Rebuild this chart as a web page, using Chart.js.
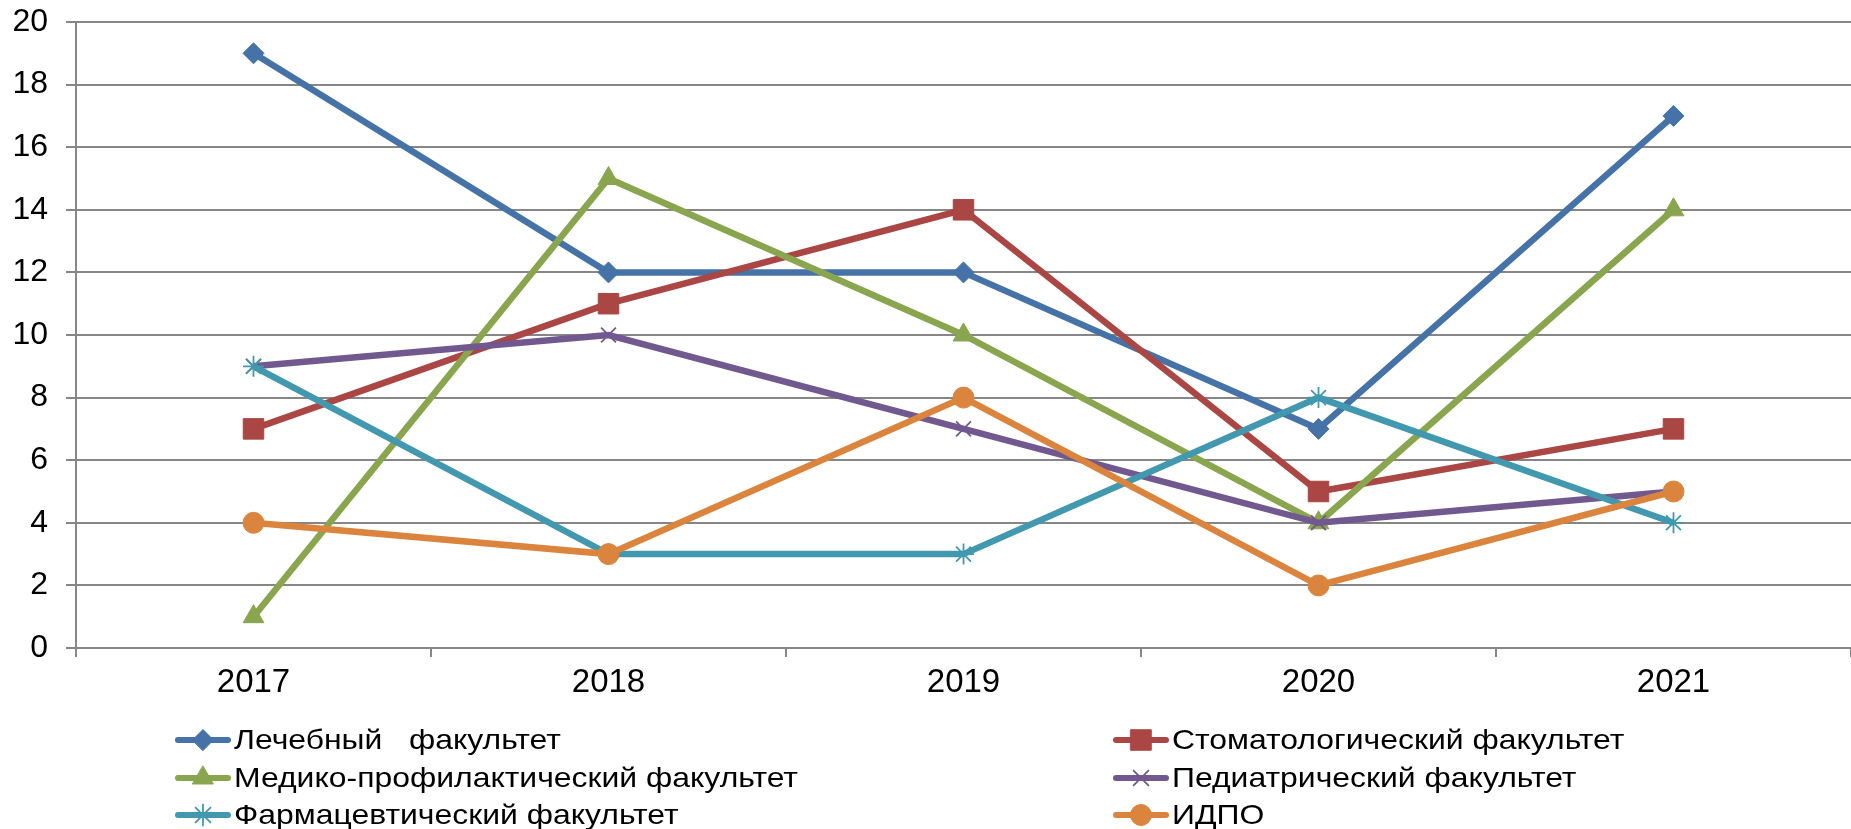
<!DOCTYPE html>
<html>
<head>
<meta charset="utf-8">
<script src="https://cdn.jsdelivr.net/npm/chart.js@4/dist/chart.umd.min.js"></script>
<style>
  html, body { margin: 0; padding: 0; background: #ffffff; overflow: hidden; }
  #wrap { width: 1851px; height: 829px; position: relative; overflow: hidden; }
  canvas { display: block; }
</style>
</head>
<body>
<div id="wrap"><canvas id="c" width="1851" height="829"></canvas></div>
<script>
// Years on the category axis
const years = ['2017', '2018', '2019', '2020', '2021'];

// Faculty names (legend labels)
const faculties = [
  'Лечебный   факультет',
  'Стоматологический факультет',
  'Медико-профилактический факультет',
  'Педиатрический факультет',
  'Фармацевтический факультет',
  'ИДПО'
];

// Values per faculty, one per year
const lechebny = [19, 12, 12, 7, 17];
const stomatolog = [7, 11, 14, 5, 7];
const medprof = [1, 15, 10, 4, 14];
const pediatr = [9, 10, 7, 4, 5];
const pharm = [9, 3, 3, 8, 4];
const idpo = [4, 3, 8, 2, 5];

// Value axis range
const yMin = 0;
const yMax = 20;
const yStep = 2;

const seriesValues = [lechebny, stomatolog, medprof, pediatr, pharm, idpo];
const colors = ['#4572A7', '#AA4643', '#89A54E', '#71588F', '#4198AF', '#DB843D'];
const markers = ['rectRot', 'rect', 'triangle', 'crossRot', 'star', 'circle'];
const markerRadius = [10.5, 14.5, 12, 10.5, 10.5, 10.5];
const markerBorder = [1, 1, 1, 1.8, 1.8, 1];

const FONT = '"Liberation Sans", Arial, sans-serif';
const GRID = '#868686';
Chart.defaults.font.family = FONT;

const datasets = seriesValues.map((vals, i) => ({
  label: faculties[i],
  data: vals,
  borderColor: colors[i],
  backgroundColor: colors[i],
  borderWidth: 6.5,
  pointStyle: markers[i],
  pointRadius: markerRadius[i],
  pointHoverRadius: markerRadius[i],
  pointBackgroundColor: colors[i],
  pointBorderColor: colors[i],
  pointBorderWidth: markerBorder[i],
  tension: 0,
  fill: false,
  clip: false,
  order: seriesValues.length - i
}));

// Two-column legend drawn with a line sample and the series marker
const lineLegend = {
  id: 'lineLegend',
  afterDraw(chart) {
    const ctx = chart.ctx;
    const colX = [175, 1113];
    const rowY = [740, 778, 815];
    chart.data.datasets.forEach((ds, i) => {
      const x0 = colX[i % 2];
      const y = rowY[Math.floor(i / 2)];
      ctx.save();
      ctx.strokeStyle = ds.borderColor;
      ctx.lineWidth = 6;
      ctx.lineCap = 'round';
      ctx.beginPath();
      ctx.moveTo(x0 + 3, y);
      ctx.lineTo(x0 + 53, y);
      ctx.stroke();
      ctx.fillStyle = ds.pointBackgroundColor;
      ctx.strokeStyle = ds.pointBorderColor;
      ctx.lineWidth = ds.pointBorderWidth;
      Chart.helpers.drawPoint(ctx, {
        pointStyle: ds.pointStyle,
        radius: ds.pointRadius,
        borderWidth: ds.pointBorderWidth,
        rotation: 0
      }, x0 + 28, y);
      // label text, slightly widened
      ctx.translate(x0 + 59, y + 1);
      ctx.scale(1.14, 1);
      ctx.fillStyle = '#000000';
      ctx.font = '28px ' + FONT;
      ctx.textBaseline = 'middle';
      ctx.textAlign = 'left';
      ctx.fillText(ds.label, 0, 0);
      ctx.restore();
    });
  }
};

new Chart(document.getElementById('c'), {
  type: 'line',
  data: { labels: years, datasets },
  options: {
    responsive: false,
    animation: false,
    devicePixelRatio: 1,
    layout: { autoPadding: false, padding: { top: 22, right: 0, left: 0, bottom: 0 } },
    plugins: {
      legend: { display: false },
      tooltip: { enabled: false }
    },
    scales: {
      x: {
        offset: true,
        grid: {
          offset: true,
          drawOnChartArea: false,
          drawTicks: true,
          tickLength: 9,
          color: GRID,
          lineWidth: 2
        },
        border: { color: GRID, width: 2 },
        ticks: { color: '#000000', font: { size: 33 }, padding: 6, maxRotation: 0 },
        afterFit(scale) {
          scale.height = 181;
          scale.paddingLeft = 0;
          scale.paddingRight = 0;
        }
      },
      y: {
        min: yMin,
        max: yMax,
        ticks: { stepSize: yStep, color: '#000000', font: { size: 32 }, padding: 18 },
        grid: { color: GRID, lineWidth: 2, tickLength: 10 },
        border: { color: GRID, width: 2 },
        afterFit(scale) {
          scale.width = 76;
          scale.paddingTop = 0;
          scale.paddingBottom = 0;
        }
      }
    }
  },
  plugins: [lineLegend]
});
</script>
</body>
</html>
